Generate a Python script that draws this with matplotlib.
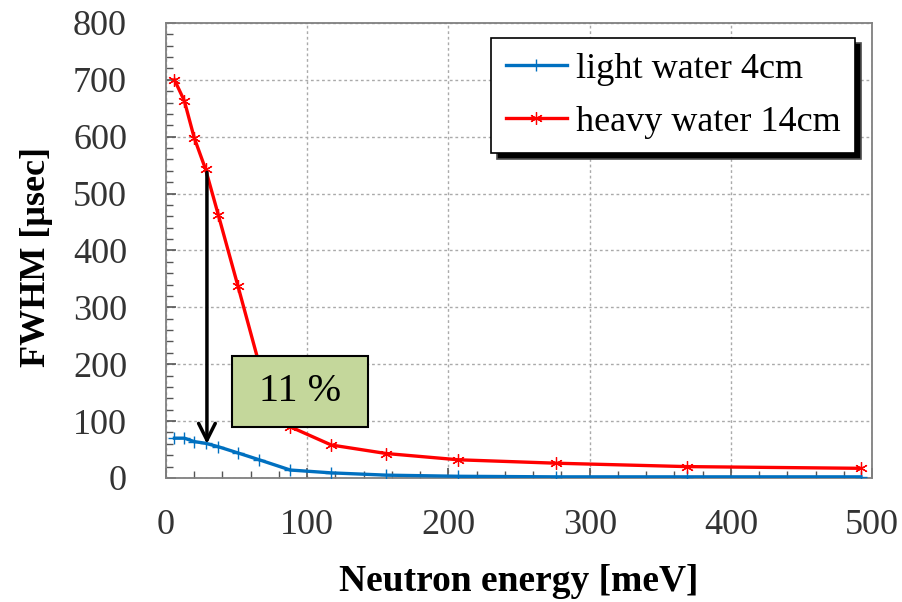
import matplotlib.pyplot as plt
from matplotlib.patches import Rectangle
from matplotlib.ticker import MultipleLocator

# values
energy = [6, 13, 20, 28, 37, 51, 66, 88, 117, 156, 207, 276, 369, 492]
light_water = [70, 70, 64, 61, 55, 44, 32, 14, 9, 5, 3, 2, 2, 2]
heavy_water = [700, 663, 598, 543, 463, 337, 200, 90, 58, 43, 32, 26, 20, 17]
series_labels = ['light water 4cm', 'heavy water 14cm']
ratio_text = '11 %'

plt.rcParams['font.family'] = ['Liberation Serif', 'DejaVu Serif']

fig = plt.figure(figsize=(9.02, 6.02), dpi=100)
ax = fig.add_axes([0.184, 0.206, 0.783, 0.756])

ax.plot(energy, light_water, color='#0070c0', lw=2.4, marker='+', ms=9, mew=1.0,
        label=series_labels[0], zorder=3)
ax.plot(energy, heavy_water, color='#ff0000', lw=2.4, marker=(6, 2, 0), ms=9, mew=0.9,
        label=series_labels[1], zorder=3)

ax.set_xlim(0, 500)
ax.set_ylim(0, 800)
ax.xaxis.set_major_locator(MultipleLocator(100))
ax.xaxis.set_minor_locator(MultipleLocator(20))
ax.yaxis.set_major_locator(MultipleLocator(100))
ax.yaxis.set_minor_locator(MultipleLocator(20))
ax.tick_params(which='both', direction='in', colors='#555555', labelcolor='#333333')
ax.tick_params(which='major', length=7, width=1.2, labelsize=26)
ax.tick_params(axis='y', which='major', pad=28)
ax.tick_params(axis='x', which='major', pad=22)
ax.tick_params(which='minor', length=5, width=1.0)
ax.grid(True, which='major', color='#aaaaaa', ls=(0, (2, 2)), lw=1.0)
for s in ax.spines.values():
    s.set_color('#808080')
    s.set_linewidth(1.3)

ax.set_xlabel('Neutron energy [meV]', fontsize=27, fontweight='bold', labelpad=16)
ax.set_ylabel('FWHM [μsec]', fontsize=26, fontweight='bold')
ax.yaxis.set_label_coords(-0.16, 0.485)

leg = ax.legend(loc='upper right', bbox_to_anchor=(0.976, 0.967), borderaxespad=0,
                fontsize=26, fancybox=False, framealpha=1, edgecolor='black',
                handlelength=1.7, labelspacing=0.55, borderpad=0.4, handletextpad=0.25,
                shadow={'ox': 4, 'oy': -4, 'facecolor': 'black', 'alpha': 1.0})
leg.get_frame().set_linewidth(1.2)

# arrow and ratio box
ax.annotate('', xy=(29, 55), xytext=(29, 542),
            arrowprops=dict(arrowstyle='->', color='black', lw=2.5, mutation_scale=30),
            zorder=4)
ax.add_patch(Rectangle((47, 90), 96, 125, facecolor='#c4d79b', edgecolor='black',
                       lw=1.5, zorder=5))
ax.text(95, 152, ratio_text, fontsize=29, ha='center', va='center', zorder=6)

fig.savefig('out.png', dpi=100)
